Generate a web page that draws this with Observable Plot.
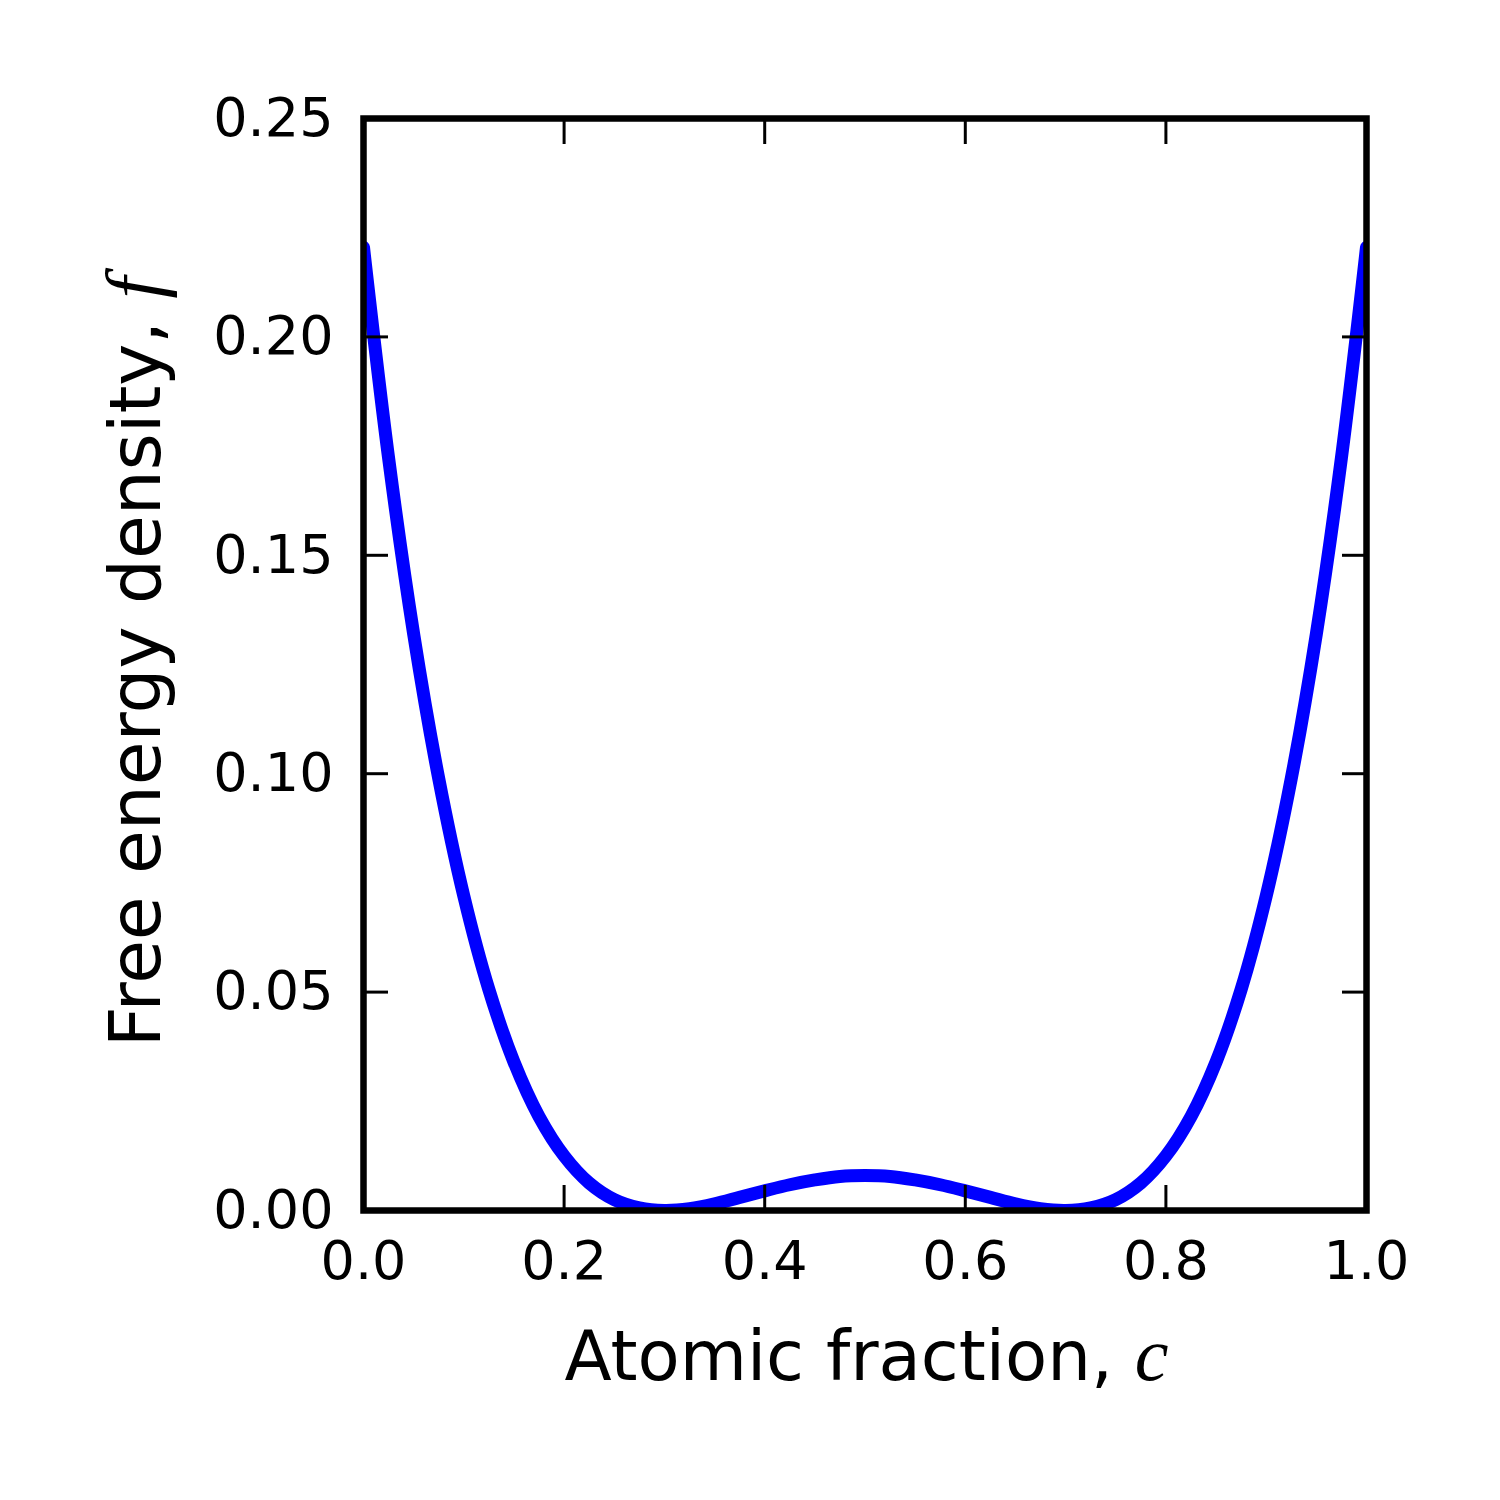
<!DOCTYPE html>
<html>
<head>
<meta charset="utf-8">
<script src="https://cdn.jsdelivr.net/npm/d3@7"></script>
<script src="https://cdn.jsdelivr.net/npm/@observablehq/plot@0.6"></script>
<style>
  html, body { margin: 0; padding: 0; background: #fff; }
</style>
</head>
<body>
<div id="chart"></div>
<script>
// Atomic fraction c
const cValues = [0, 0.025, 0.05, 0.075, 0.1, 0.125, 0.15, 0.175, 0.2, 0.225, 0.25, 0.275, 0.3, 0.325, 0.35, 0.375, 0.4, 0.425, 0.45, 0.475, 0.5,
  0.525, 0.55, 0.575, 0.6, 0.625, 0.65, 0.675, 0.7, 0.725, 0.75, 0.775, 0.8, 0.825, 0.85, 0.875, 0.9, 0.925, 0.95, 0.975, 1];
// Free energy density f
const fValues = [0.2205, 0.1723, 0.1320, 0.0989, 0.0720, 0.0506, 0.0340, 0.0215, 0.0125, 0.0063, 0.0025, 0.0006, 0.0000, 0.0004, 0.0015, 0.0030, 0.0045, 0.0059, 0.0070, 0.0078, 0.0080,
  0.0078, 0.0070, 0.0059, 0.0045, 0.0030, 0.0015, 0.0004, 0.0000, 0.0006, 0.0025, 0.0063, 0.0125, 0.0215, 0.0340, 0.0506, 0.0720, 0.0989, 0.1320, 0.1723, 0.2205];
const xTicks = [0, 0.2, 0.4, 0.6, 0.8, 1.0];
const yTicks = [0, 0.05, 0.10, 0.15, 0.20, 0.25];
const xLabel = "Atomic fraction, ";
const xLabelVar = "c";
const yLabel = "Free energy density, ";
const yLabelVar = "f";

const data = cValues.map((c, i) => ({c, f: fValues[i]}));

const W = 1500, H = 1500;
const mL = 363, mR = 134, mT = 118, mB = 290;

const plot = Plot.plot({
  width: W,
  height: H,
  marginLeft: mL,
  marginRight: mR,
  marginTop: mT,
  marginBottom: mB,
  style: {fontFamily: "'DejaVu Sans', sans-serif", background: "#fff", color: "#000"},
  x: {domain: [0, 1]},
  y: {domain: [0, 0.25]},
  marks: [
    Plot.line(data, {x: "c", y: "f", stroke: "#0000ff", strokeWidth: 13, curve: "catmull-rom", clip: true}),
    Plot.frame({stroke: "#000", strokeWidth: 6.5}),
    // inward ticks on all four sides
    Plot.axisX({ticks: xTicks, anchor: "bottom", tickSize: -25, strokeWidth: 3, text: null, label: null}),
    Plot.axisX({ticks: xTicks, anchor: "top", tickSize: -25, strokeWidth: 3, text: null, label: null}),
    Plot.axisY({ticks: yTicks, anchor: "left", tickSize: -25, strokeWidth: 3, text: null, label: null}),
    Plot.axisY({ticks: yTicks, anchor: "right", tickSize: -25, strokeWidth: 3, text: null, label: null}),
    // tick labels
    Plot.axisX({ticks: xTicks, anchor: "bottom", tickSize: 0, tickPadding: 30, fontSize: 54, tickFormat: d3.format(".1f"), label: null}),
    Plot.axisY({ticks: yTicks, anchor: "left", tickSize: 0, tickPadding: 30, fontSize: 54, tickFormat: d3.format(".2f"), label: null})
  ]
});

document.getElementById("chart").appendChild(plot);

// axis titles with italic math variables
const svg = d3.select(plot);
const cx = mL + (W - mL - mR) / 2;
const cy = mT + (H - mT - mB) / 2;

const xt = svg.append("text")
  .attr("x", cx + 2).attr("y", 1380)
  .attr("text-anchor", "middle")
  .attr("font-family", "'DejaVu Sans', sans-serif")
  .attr("font-size", 69)
  .attr("fill", "#000");
xt.append("tspan").text(xLabel);
xt.append("tspan").attr("font-family", "'Liberation Serif', serif").attr("font-style", "italic").attr("font-size", 76).text(xLabelVar);

const yt = svg.append("text")
  .attr("transform", `translate(160,${cy - 2}) rotate(-90)`)
  .attr("text-anchor", "middle")
  .attr("font-family", "'DejaVu Sans', sans-serif")
  .attr("font-size", 71)
  .attr("fill", "#000");
yt.append("tspan").text(yLabel);
yt.append("tspan").attr("font-family", "'Liberation Serif', serif").attr("font-style", "italic").attr("font-size", 78).text(yLabelVar);
</script>
</body>
</html>
